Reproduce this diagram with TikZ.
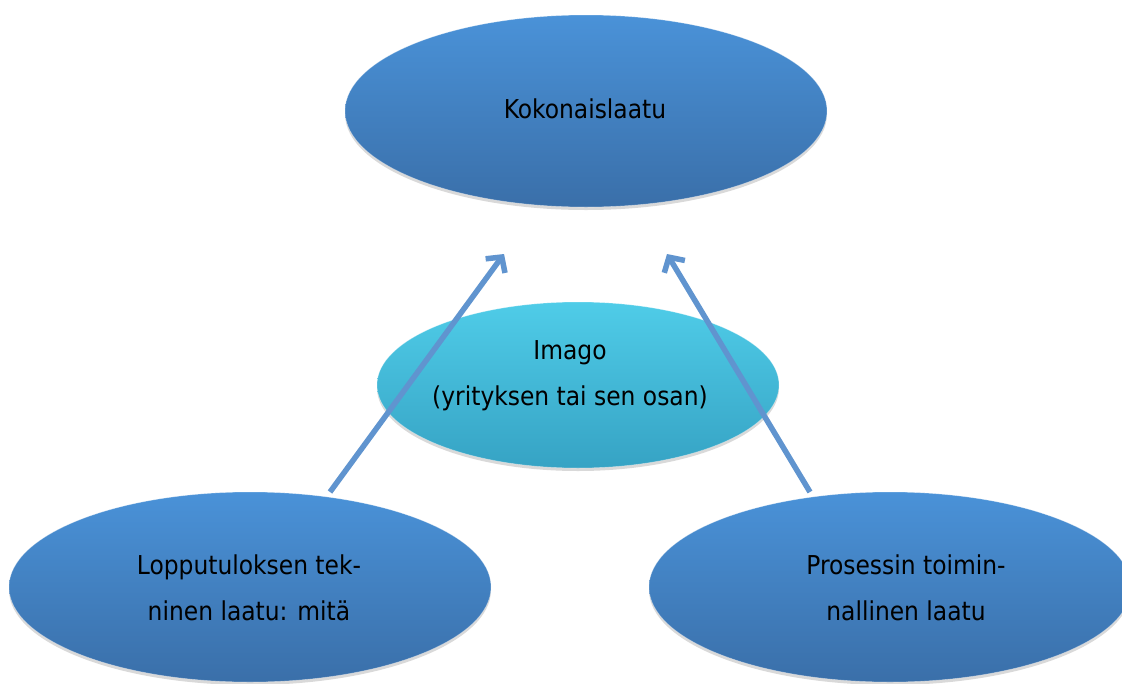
\documentclass[tikz,border=0pt]{standalone}
\usepackage{fontspec}
\setmainfont{DejaVu Sans Condensed}
\usetikzlibrary{arrows.meta,shadows,shapes.geometric}
\definecolor{bTop}{HTML}{4A92D8}
\definecolor{bBot}{HTML}{3A6FA9}
\definecolor{cTop}{HTML}{4FCCE8}
\definecolor{cBot}{HTML}{36A3C4}
\definecolor{arr}{HTML}{6094CF}
\begin{document}
\begin{tikzpicture}[x=1pt,y=-1pt,
  ovalshape/.style={ellipse, inner sep=0pt, draw=white, draw opacity=0.35, line width=0.6pt,
    drop shadow={shadow xshift=0pt, shadow yshift=-3pt, opacity=0.15, fill=black}},
  blueoval/.style={ovalshape, top color=bTop, bottom color=bBot},
  cyanoval/.style={ovalshape, top color=cTop, bottom color=cBot},
  lbl/.style={font=\fontsize{26}{46}\selectfont, align=center, inner sep=0pt, text=black},
  conn/.style={draw=arr, line width=5.5pt, -{Straight Barb[length=11pt,width=24pt]}}
]
\useasboundingbox (0,0) rectangle (1122,683);
\clip (0,0) rectangle (1122,683);
\fill[white] (0,0) rectangle (1122,683);

\node[blueoval, minimum width=482pt, minimum height=192pt] (top) at (586,111) {};
\node[cyanoval, minimum width=402pt, minimum height=166pt] (mid) at (578,385) {};
\node[blueoval, minimum width=482pt, minimum height=190pt] (bl) at (250,587) {};
\node[blueoval, minimum width=482pt, minimum height=190pt] (br) at (890,587) {};

\node[lbl, anchor=base] (ttop) at (585,118) {Kokonaislaatu};
\node[lbl] (tmid) at (570,376) {Imago\\(yrityksen tai sen osan)};
\node[lbl] (tbl) at (249,588) {Lopputuloksen tek-\\ninen laatu: mitä};
\node[lbl] (tbr) at (906,588) {Prosessin toimin-\\nallinen laatu};

\coordinate (s1) at (330,492);
\coordinate (k1) at (504,254);
\coordinate (s2) at (810,492);
\coordinate (k2) at (667,254);
\draw[conn] (s1) -- (k1);
\draw[conn] (s2) -- (k2);
\end{tikzpicture}
\end{document}
